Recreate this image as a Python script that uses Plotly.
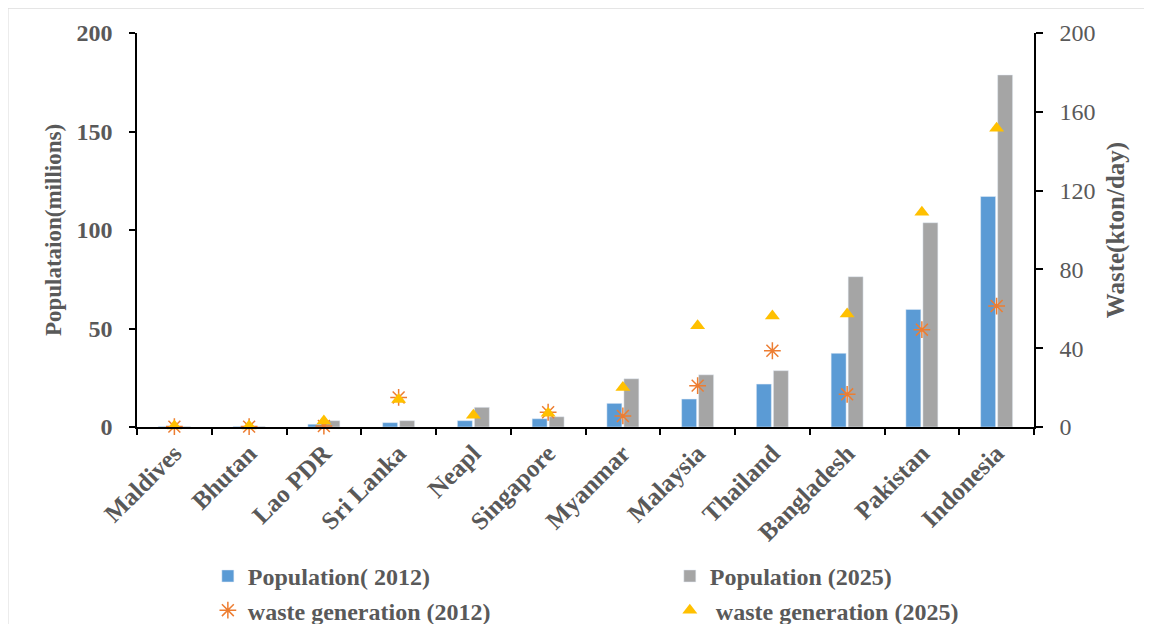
import plotly.graph_objects as go

countries = ["Maldives", "Bhutan", "Lao PDR", "Sri Lanka", "Neapl", "Singapore",
             "Myanmar", "Malaysia", "Thailand", "Bangladesh", "Pakistan", "Indonesia"]
pop_2012 = [0.3, 0.3, 1.4, 2.2, 3.2, 4.2, 12.0, 14.2, 21.8, 37.4, 59.7, 117.0]
pop_2025 = [0.3, 0.3, 3.2, 3.2, 10.0, 5.2, 24.5, 26.5, 28.6, 76.3, 103.7, 178.7]
waste_2012 = [0.2, 0.2, 0.5, 15.0, -0.7, 7.5, 5.6, 21.0, 38.7, 16.6, 49.4, 61.4]
waste_2025 = [0.5, 0.5, 3.0, 14.0, 6.0, 7.0, 20.1, 51.4, 56.3, 57.4, 109.0, 151.6]

SERIF = "Liberation Serif"
GRAY_TXT = "#595959"

fig = go.Figure()
fig.add_trace(go.Bar(x=countries, y=pop_2012, name="Population( 2012)",
                     marker_color="#5B9BD5", legend="legend", legendgroup="a", yaxis="y"))
fig.add_trace(go.Bar(x=countries, y=pop_2025, name="Population (2025)",
                     marker_color="#A5A5A5", legend="legend2", legendgroup="b", yaxis="y"))
fig.add_trace(go.Scatter(x=countries, y=waste_2012, name="waste generation (2012)",
                         mode="markers", yaxis="y2", legend="legend", legendgroup="c",
                         cliponaxis=False,
                         marker=dict(symbol="asterisk-open", size=14, color="#ED7D31",
                                     line=dict(color="#ED7D31", width=1.5))))
fig.add_trace(go.Scatter(x=countries, y=waste_2025, name=" waste generation (2025)",
                         mode="markers", yaxis="y2", legend="legend2", legendgroup="d",
                         cliponaxis=False,
                         marker=dict(symbol="triangle-up", size=13, color="#FFC000")))

tickfont_bold = dict(family=SERIF, size=24, color=GRAY_TXT, weight="bold")
tickfont_reg = dict(family=SERIF, size=24, color=GRAY_TXT)
legfont = dict(family=SERIF, size=24, color=GRAY_TXT, weight="bold")

# The page body adds an 8 px offset; margins compensate so the plot area
# sits at x 137..1034, y 33..427 on screen.
fig.update_layout(
    width=1152, height=720,
    margin=dict(l=129, r=126, t=25, b=301),
    paper_bgcolor="white", plot_bgcolor="white",
    barmode="group", bargap=0.545, bargroupgap=0.12,
    xaxis=dict(type="category", range=[-0.5, len(countries) - 0.5],
               showline=True, linecolor="black", linewidth=1.5,
               ticks="outside", tickson="boundaries", ticklen=6, tickwidth=1.5,
               tickcolor="black", tickangle=-45, showgrid=False,
               tickfont=dict(family=SERIF, size=25, color=GRAY_TXT, weight="bold")),
    yaxis=dict(range=[0, 200], dtick=50, showline=True, linecolor="black", linewidth=1.5,
               ticks="outside", ticklen=6, tickwidth=1.5, tickcolor="black",
               showgrid=False, zeroline=False, tickfont=tickfont_bold,
               ticklabelstandoff=12,
               title=dict(text="Populataion(millions)",
                          font=dict(family=SERIF, size=23, color=GRAY_TXT, weight="bold"),
                          standoff=8)),
    yaxis2=dict(range=[0, 200], dtick=40, overlaying="y", side="right",
                showline=True, linecolor="black", linewidth=1.5,
                ticks="outside", ticklen=7, tickwidth=1.5, tickcolor="black",
                showgrid=False, zeroline=False, tickfont=tickfont_reg,
                ticklabelstandoff=12,
                title=dict(text="Waste(kton/day)",
                           font=dict(family=SERIF, size=25, color=GRAY_TXT, weight="bold"),
                           standoff=12)),
    legend=dict(x=0.079, y=-0.322, xanchor="left", yanchor="top",
                orientation="v", font=legfont, bgcolor="rgba(0,0,0,0)",
                tracegroupgap=0, itemwidth=30),
    legend2=dict(x=0.594, y=-0.322, xanchor="left", yanchor="top",
                 orientation="v", font=legfont, bgcolor="rgba(0,0,0,0)",
                 tracegroupgap=0, itemwidth=30),
    shapes=[dict(type="rect", xref="paper", yref="paper",
                 x0=-0.1438, x1=1.126, y0=-0.56, y1=1.063,
                 line=dict(color="#D9D9D9", width=1), layer="below")],
)

fig.write_html("out.html")
